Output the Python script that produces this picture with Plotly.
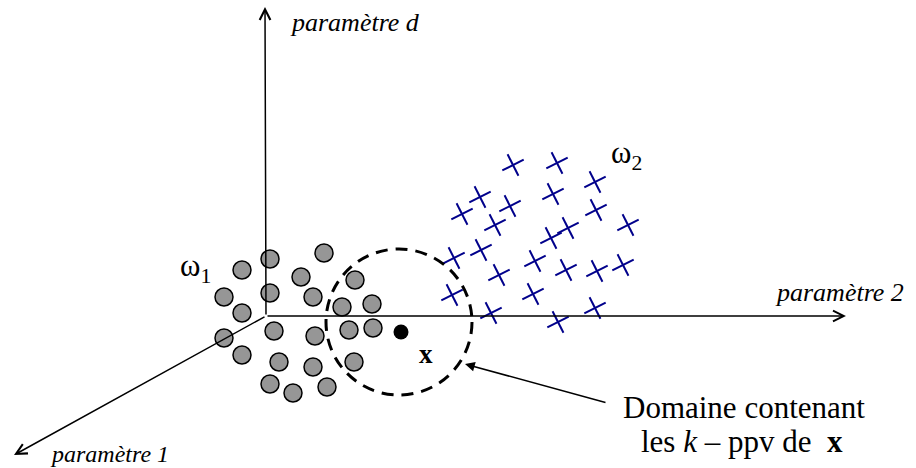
import numpy as np
import plotly.graph_objects as go

# ---- data (pixel-space diagram coordinates) ----
class1_x = [324, 270, 242, 301, 355, 224, 270, 313, 242, 342, 372, 224, 274, 315, 349, 373, 242, 279, 313, 354, 270, 293, 327]
class1_y = [253, 259, 270, 277, 280, 297, 293, 297, 313, 307, 304, 338, 331, 336, 330, 328, 355, 362, 367, 362, 384, 393, 387]

class2_x = [513, 557, 595, 480, 510, 553, 462, 596, 495, 568, 551, 628, 454, 481, 535, 499, 566, 597, 623, 452, 533, 491, 558, 595]
class2_y = [165, 163, 182, 197, 206, 194, 214, 210, 225, 228, 238, 225, 258, 250, 261, 275, 270, 271, 265, 295, 294, 313, 322, 308]

query_x = [401]
query_y = [332]

origin = (266, 316)
axis_tips = {"d": (265, 7), "2": (846, 316), "1": (14, 455)}

fig = go.Figure()

# axes with arrows
for key, (tx, ty) in axis_tips.items():
    fig.add_annotation(x=tx, y=ty, ax=origin[0], ay=origin[1], xref="x", yref="y",
                       axref="x", ayref="y", showarrow=True, arrowhead=5,
                       arrowsize=1.4, arrowwidth=1.5, arrowcolor="black", text="",
                       standoff=0, startstandoff=0)

# crosses (class 2)
half = 12
cx, cy = [], []
for ang in (27, 117):
    a = np.deg2rad(ang)
    dx, dy = half * np.cos(a), -half * np.sin(a)
    for x, y in zip(class2_x, class2_y):
        cx += [x - dx, x + dx, None]
        cy += [y - dy, y + dy, None]
fig.add_trace(go.Scatter(x=cx, y=cy, mode="lines",
                         line=dict(color="#00008b", width=2), hoverinfo="skip"))

# circles (class 1)
fig.add_trace(go.Scatter(x=class1_x, y=class1_y, mode="markers",
                         marker=dict(size=18, color="#969696",
                                     line=dict(color="black", width=1.5))))

# query point
fig.add_trace(go.Scatter(x=query_x, y=query_y, mode="markers",
                         marker=dict(size=15, color="black")))

# dashed neighbourhood circle
r = 73
ccx, ccy = 399, 322
fig.add_shape(type="circle", xref="x", yref="y", x0=ccx - r, x1=ccx + r,
              y0=ccy - r, y1=ccy + r, line=dict(color="black", width=3, dash="12px,8px"))

# pointer arrow
fig.add_annotation(x=465, y=364, ax=607, ay=403, xref="x", yref="y", axref="x", ayref="y",
                   showarrow=True, arrowhead=2, arrowsize=1.3, arrowwidth=1.5,
                   arrowcolor="black", text="", standoff=0)

serif = "Liberation Serif"
def txt(x, y, s, size, xanchor="center"):
    fig.add_annotation(x=x, y=y, xref="x", yref="y", text=s, showarrow=False,
                       font=dict(family=serif, size=size, color="black"), xanchor=xanchor,
                       yanchor="middle")

txt(288, 22, "<i>paramètre d</i>", 26, "left")
txt(773, 292, "<i>paramètre 2</i>", 26, "left")
txt(48, 454, "<i>paramètre 1</i>", 24, "left")
txt(195, 268, "ω<sub>1</sub>", 31)
txt(626, 155, "ω<sub>2</sub>", 31)
txt(426, 354, "<b>x</b>", 27)
txt(744, 407, "Domaine contenant", 31)
txt(742, 441, "les <i>k</i> – ppv de  <b>x</b>", 31)

fig.update_layout(width=916, height=468, margin=dict(l=0, r=0, t=0, b=0),
                  paper_bgcolor="white", plot_bgcolor="white", showlegend=False)
fig.update_xaxes(range=[0, 916], visible=False)
fig.update_yaxes(range=[468, 0], visible=False)

fig.write_html("out.html", config={"displayModeBar": False},
               post_script="document.body.style.margin='0';document.body.style.overflow='hidden';")
